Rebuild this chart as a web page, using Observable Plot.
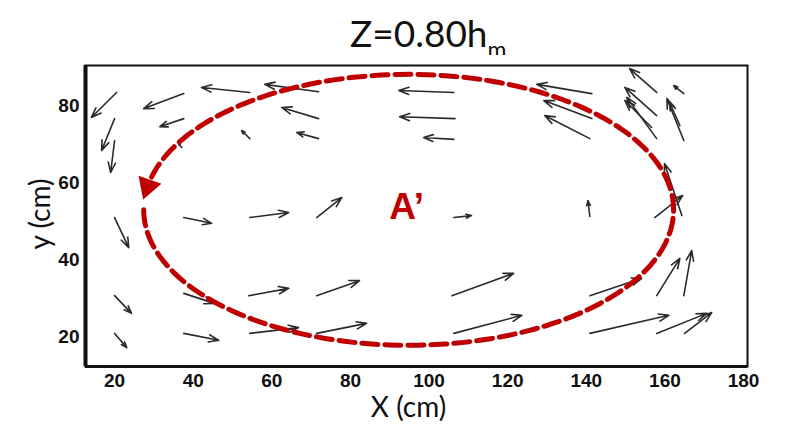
<!DOCTYPE html>
<html>
<head>
<meta charset="utf-8">
<script src="https://cdn.jsdelivr.net/npm/d3@7"></script>
<script src="https://cdn.jsdelivr.net/npm/@observablehq/plot@0.6"></script>
<style>
  html, body { margin: 0; padding: 0; background: #fff; }
  #wrap { position: relative; width: 787px; height: 438px; }
  #title { position: absolute; top: 12px; left: 350px; font-family: Lato, "Open Sans", sans-serif; font-size: 37px; line-height: 42px; color: #111; white-space: nowrap; }
  #title sub { font-size: 23px; vertical-align: -11px; line-height: 0; }
  #chart { position: absolute; top: 55px; left: 0; }
</style>
</head>
<body>
<div id="wrap">
  <div id="title">Z=0.80h<sub>m</sub></div>
  <div id="chart"></div>
</div>
<script>
// Velocity vectors: tail (xTail, yTail) -> head (xHead, yHead), in cm
const xTail = [20.5, 20.0, 20.0, 37.6, 37.6, 54.4, 54.4, 37.1, 71.9, 71.9, 71.9, 106.3, 106.6, 106.3, 141.4, 141.4, 140.9,
               157.9, 157.9, 157.9, 156.6, 164.8, 164.8, 163.8, 164.3, 157.4,
               20.0, 37.6, 54.4, 71.4, 106.3, 140.9,
               20.0, 37.6, 54.1, 71.4, 105.8, 140.9, 157.9, 164.8,
               20.0, 37.6, 54.4, 71.4, 106.3, 140.9, 157.9, 165.0];
const yTail = [83.4, 76.6, 70.9, 83.1, 76.6, 83.4, 71.4, 69.1, 83.6, 76.6, 71.4, 83.4, 76.6, 71.2, 83.1, 76.6, 71.4,
               83.4, 77.4, 71.4, 74.3, 83.1, 70.9, 74.8, 51.4, 50.9,
               50.9, 50.9, 50.9, 50.9, 50.9, 51.2,
               30.6, 31.2, 30.6, 30.6, 30.6, 30.6, 30.6, 30.6,
               20.8, 20.8, 20.8, 20.8, 20.8, 20.8, 20.8, 20.8];
const xHead = [14.1, 16.7, 19.0, 27.4, 31.5, 42.1, 52.3, 36.3, 58.2, 62.5, 66.3, 92.3, 92.5, 98.6, 127.4, 129.2, 129.4,
               151.0, 149.8, 150.3, 149.8, 162.2, 160.5, 161.2, 159.9, 164.5,
               23.6, 44.7, 64.3, 77.8, 110.8, 140.4,
               24.3, 45.4, 64.3, 82.3, 121.5, 154.1, 163.8, 166.8,
               23.1, 46.5, 66.8, 84.1, 123.6, 161.0, 170.6, 171.9];
const yHead = [76.9, 68.3, 62.6, 79.2, 74.5, 84.7, 73.5, 70.1, 85.5, 79.5, 73.0, 83.9, 77.1, 71.7, 85.5, 81.3, 77.4,
               89.6, 84.7, 82.1, 81.3, 85.2, 81.8, 80.8, 64.9, 56.6,
               43.1, 49.4, 52.2, 56.1, 51.4, 55.3,
               26.0, 28.6, 32.5, 34.5, 36.4, 35.1, 40.3, 42.3,
               17.1, 19.0, 22.3, 23.4, 25.5, 25.5, 26.0, 26.2];

const xTicks = [20, 40, 60, 80, 100, 120, 140, 160, 180];
const yTicks = [20, 40, 60, 80];
const xDomain = [12.6, 181];
const yDomain = [12.2, 90.4];

// Circulation annotation (ellipse A')
const ellipseCenter = [94.8, 52.9];
const ellipseRadii = [67.4, 35.2];
const arcDegrees = [180, 526];
const arrowheadDegree = 530;
const labelText = ["A\u2019"];
const labelPos = [94.3, 53.5];

const vectors = xTail.map((x, i) => ({x1: x, y1: yTail[i], x2: xHead[i], y2: yHead[i]}));
const rad = (deg) => deg * Math.PI / 180;
const onEllipse = (deg) => ({
  x: ellipseCenter[0] + ellipseRadii[0] * Math.cos(rad(deg)),
  y: ellipseCenter[1] + ellipseRadii[1] * Math.sin(rad(deg))
});
const arc = d3.range(arcDegrees[0], arcDegrees[1] + 0.01, 2).map(onEllipse);
const head = [onEllipse(arrowheadDegree)];

const RED = "#c00000";
const tickFont = "'Liberation Sans', Arial, sans-serif";
const labelFont = "Lato, 'Open Sans', sans-serif";

const chart = Plot.plot({
  width: 787,
  height: 383,
  marginTop: 10,
  marginBottom: 72,
  marginLeft: 85,
  marginRight: 40,
  style: {background: "white", color: "#111"},
  x: {domain: xDomain},
  y: {domain: yDomain},
  marks: [
    Plot.frame({stroke: "#111", strokeWidth: 2}),
    Plot.ruleX([xDomain[0]], {stroke: "#111", strokeWidth: 4}),
    Plot.ruleY([yDomain[0]], {stroke: "#111", strokeWidth: 3}),
    Plot.axisX(xTicks, {tickSize: 0, tickPadding: 7, fontSize: 19, fontWeight: "bold", fontFamily: tickFont, label: null}),
    Plot.axisY(yTicks, {tickSize: 0, tickPadding: 6, fontSize: 19, fontWeight: "bold", fontFamily: tickFont, label: null}),
    Plot.arrow(vectors, {x1: "x1", y1: "y1", x2: "x2", y2: "y2", stroke: "#2b2b2b", strokeWidth: 1.6, headLength: 10, headAngle: 40}),
    Plot.line(arc, {x: "x", y: "y", stroke: RED, strokeWidth: 5, strokeDasharray: "16,7"}),
    Plot.dot(head, {x: "x", y: "y", symbol: "triangle", r: 9, fill: RED, stroke: "none", rotate: 199}),
    Plot.text(labelText, {x: () => labelPos[0], y: () => labelPos[1], text: d => d, fill: RED, fontSize: 37, fontWeight: "bold", fontFamily: tickFont}),
    Plot.text(["X (cm)"], {frameAnchor: "bottom", lineAnchor: "middle", textAnchor: "middle", dx: -8, dy: 42, text: d => d, fontSize: 28, fontFamily: labelFont, fill: "#111"}),
    Plot.text(["y (cm)"], {frameAnchor: "left", lineAnchor: "middle", textAnchor: "middle", dx: -44, dy: -2, rotate: -90, text: d => d, fontSize: 28, fontFamily: labelFont, fill: "#111"})
  ]
});
document.getElementById("chart").appendChild(chart);
</script>
</body>
</html>
